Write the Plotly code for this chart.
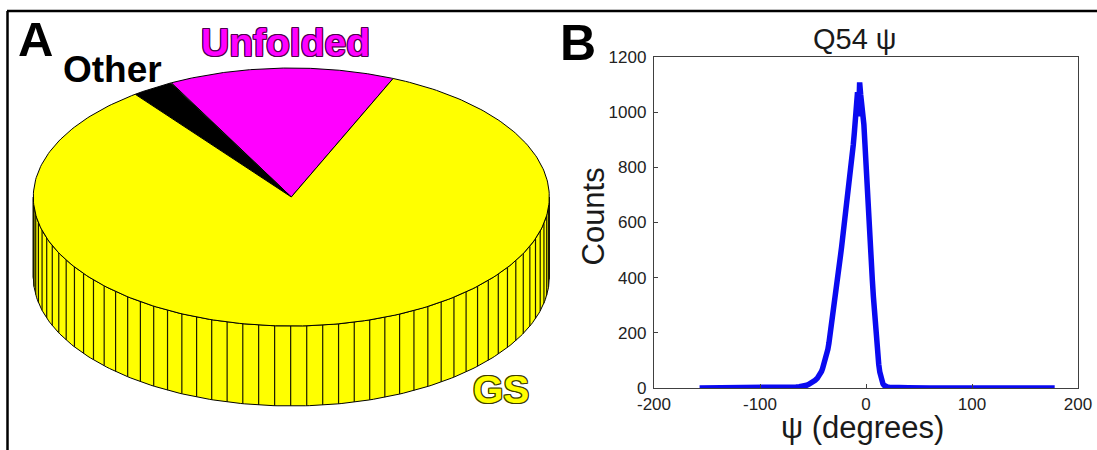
import math
import numpy as np
import plotly.graph_objects as go

# ---------------- Panel A : population pie ----------------
pie_labels = ["Unfolded", "Other", "GS"]
pie_values = [14.15, 2.65, 83.2]
pie_colors = ["#ff00ff", "#000000", "#ffff00"]

# ---------------- Panel B : psi histogram ----------------
psi_deg = [-157, -150, -140, -130, -120, -110, -100, -90, -80, -75, -70, -66, -63,
           -60, -58, -56, -54, -52, -50, -48, -46, -44, -42, -41, -40, -39, -38,
           -37, -36, -35, -34, -33, -32, -31, -30, -29, -28, -27, -26, -25, -24,
           -23, -22, -21, -20, -19, -18, -17, -16, -15, -14, -13, -12, -11, -10,
           -9, -8, -7, -6, -5, -4, -3, -2, -1, 0, 1, 2, 3, 4, 5, 6, 7, 8, 9, 10,
           11, 12, 13, 14, 15, 16, 17, 18, 19, 20, 22, 25, 30, 40, 60, 80, 100,
           120, 140, 160, 178]
counts = [0, 0, 1, 0, 1, 1, 1, 1, 2, 2, 3, 4, 5,
          6, 8, 10, 13, 17, 22, 28, 35, 45, 60, 70, 82, 95, 108,
          122, 140, 162, 188, 218, 248, 276, 305, 335, 362, 390, 420, 452, 482,
          512, 545, 572, 592, 618, 650, 682, 716, 758, 800, 842, 882, 925, 968,
          1005, 1072, 985, 1108, 1062, 1030, 1002, 955, 885, 800, 720, 642, 572, 510, 450, 390, 330, 272, 216, 166,
          122, 86, 58, 38, 24, 15, 10, 7, 5, 4, 3, 2, 1, 1, 0, 1, 0,
          0, 0, 0, 0]

x_ticks = [-200, -100, 0, 100, 200]
x_tick_labels = ["-200", "-100", "0", "100", "200"]
y_ticks = [0, 200, 400, 600, 800, 1000, 1200]
y_tick_labels = ["0", "200", "400", "600", "800", "1000", "1200"]

# ---------------- figure geometry (style) ----------------
W, H = 1097, 450
FONT = "Liberation Sans, Arial, Helvetica, sans-serif"
start_deg = 66.75          # where the first slice begins (counter-clockwise)
tilt = 0.5                 # vertical squash of the pie top
depth = 0.31               # pie thickness (in radius units)
pie_cx_px, pie_cy_px, pie_r_px = 291.3, 197.0, 258.0
seg_per_circle = 100       # facets on the rim

fig = go.Figure()

# ---- 3D pie drawn from the fractions ----
fr = np.array(pie_values, dtype=float) / float(sum(pie_values))
t_edges = math.radians(start_deg) + np.concatenate([[0.0], np.cumsum(fr)]) * 2 * np.pi

rim_x, rim_y = [], []
for i in range(len(fr)):
    t0, t1 = t_edges[i], t_edges[i + 1]
    for shift in (0.0, 2 * np.pi, -2 * np.pi):
        a0 = max(t0, np.pi + shift)
        a1 = min(t1, 2 * np.pi + shift)
        if a1 > a0:
            tt = np.linspace(a0, a1, 200)
            xs = list(np.cos(tt)) + list(np.cos(tt[::-1]))
            ys = list(tilt * np.sin(tt)) + list(tilt * np.sin(tt[::-1]) - depth)
            fig.add_trace(go.Scatter(x=xs, y=ys, xaxis="x2", yaxis="y2", mode="lines",
                                     fill="toself", fillcolor=pie_colors[i],
                                     line=dict(color="#000000", width=1),
                                     hoverinfo="skip", showlegend=False))
            for a in (a0, a1):
                rim_x += [math.cos(a), math.cos(a), None]
                rim_y += [tilt * math.sin(a), tilt * math.sin(a) - depth, None]
    n = max(1, math.ceil(fr[i] * seg_per_circle))
    for k in range(n + 1):
        a = t0 + k * (t1 - t0) / n
        if math.sin(a) < -1e-9:
            rim_x += [math.cos(a), math.cos(a), None]
            rim_y += [tilt * math.sin(a), tilt * math.sin(a) - depth, None]

fig.add_trace(go.Scatter(x=rim_x, y=rim_y, xaxis="x2", yaxis="y2", mode="lines",
                         line=dict(color="#1a1a00", width=1.2),
                         hoverinfo="skip", showlegend=False))

for i in range(len(fr)):
    t0, t1 = t_edges[i], t_edges[i + 1]
    tt = np.linspace(t0, t1, 300)
    xs = [0.0] + list(np.cos(tt)) + [0.0]
    ys = [0.0] + list(tilt * np.sin(tt)) + [0.0]
    fig.add_trace(go.Scatter(x=xs, y=ys, xaxis="x2", yaxis="y2", mode="lines",
                             fill="toself", fillcolor=pie_colors[i],
                             line=dict(color="#000000", width=1),
                             name=pie_labels[i], hoverinfo="name", showlegend=False))

# ---- histogram line ----
fig.add_trace(go.Scatter(x=psi_deg, y=counts, xaxis="x", yaxis="y", mode="lines",
                         line=dict(color="#0a0af0", width=5.5),
                         hoverinfo="x+y", showlegend=False))

# ---------------- layout ----------------
px2x = lambda p: p / W
px2y = lambda p: 1 - p / H

axis_common = dict(showgrid=False, zeroline=False, showline=True, mirror=True,
                   linecolor="#404040", linewidth=1.3, ticks="inside", ticklen=4,
                   tickcolor="#404040", tickwidth=1,
                   tickfont=dict(family=FONT, size=17, color="#222222"))

fig.update_layout(
    autosize=True, margin=dict(l=0, r=0, t=0, b=0, autoexpand=False),
    paper_bgcolor="white", plot_bgcolor="rgba(0,0,0,0)",
    xaxis=dict(domain=[px2x(654), px2x(1078)], range=[-200, 200], tickvals=x_ticks,
               ticktext=x_tick_labels, anchor="y", ticklabelstandoff=0, **axis_common),
    yaxis=dict(domain=[px2y(388), px2y(57)], range=[0, 1200], tickvals=y_ticks,
               ticktext=y_tick_labels, anchor="x", ticklabelstandoff=3, **axis_common),
    xaxis2=dict(domain=[0, 1], range=[-pie_cx_px / pie_r_px, (W - pie_cx_px) / pie_r_px],
                visible=False, anchor="y2"),
    yaxis2=dict(domain=[0, 1], range=[-(H - pie_cy_px) / pie_r_px, pie_cy_px / pie_r_px],
                visible=False, anchor="x2"),
)

def outline(c, d=1):
    s = []
    for dx, dy in [(-d, -d), (0, -d), (d, -d), (-d, 0), (d, 0), (-d, d), (0, d), (d, d)]:
        s.append(f"{dx}px {dy}px 0 {c}")
    return ", ".join(s)

ann = [
    dict(text="<b>A</b>", x=px2x(35.5), y=px2y(39.2), size=49, color="black"),
    dict(text="<b>Other</b>", x=px2x(112.5), y=px2y(69), size=37, color="black"),
    dict(text="<b>Unfolded</b>", x=px2x(285.8), y=px2y(42.5), size=39, color="#ff00ff",
         shadow=outline("#4d004d")),
    dict(text="<b>GS</b>", x=px2x(500.8), y=px2y(389.2), size=39, color="#ffff00",
         shadow=outline("#3d3d00")),
    dict(text="<b>B</b>", x=px2x(578.3), y=px2y(43.3), size=50, color="black"),
    dict(text="Q54 ψ", x=px2x(855), y=px2y(39), size=29, color="#1a1a1a"),
    dict(text="ψ (degrees)", x=px2x(862.5), y=px2y(427.5), size=31, color="#1a1a1a"),
    dict(text="Counts", x=px2x(593.8), y=px2y(216.7), size=31, color="#1a1a1a", angle=-90),
]
for a in ann:
    font = dict(family=FONT, size=a["size"], color=a["color"])
    if "shadow" in a:
        font["shadow"] = a["shadow"]
    fig.add_annotation(text=a["text"], x=a["x"], y=a["y"], xref="paper", yref="paper",
                       xanchor="center", yanchor="middle", showarrow=False,
                       textangle=a.get("angle", 0), font=font)

# outer figure frame (top and left edges)
fig.add_shape(type="line", xref="paper", yref="paper", x0=px2x(7), x1=1,
              y0=px2y(11), y1=px2y(11), line=dict(color="black", width=2.5))
fig.add_shape(type="line", xref="paper", yref="paper", x0=px2x(7.5), x1=px2x(7.5),
              y0=0, y1=px2y(11), line=dict(color="black", width=2.5))

page_css = ("document.documentElement.style.margin='0';"
            "document.documentElement.style.padding='0';"
            "document.documentElement.style.overflow='hidden';"
            "document.body.style.margin='0';"
            "document.body.style.padding='0';"
            "document.body.style.overflow='hidden';"
            "Plotly.Plots.resize(document.getElementById('{plot_id}'));")
fig.write_html("out.html", config={"displayModeBar": False, "responsive": True},
               default_width="100vw", default_height="100vh", post_script=page_css)
